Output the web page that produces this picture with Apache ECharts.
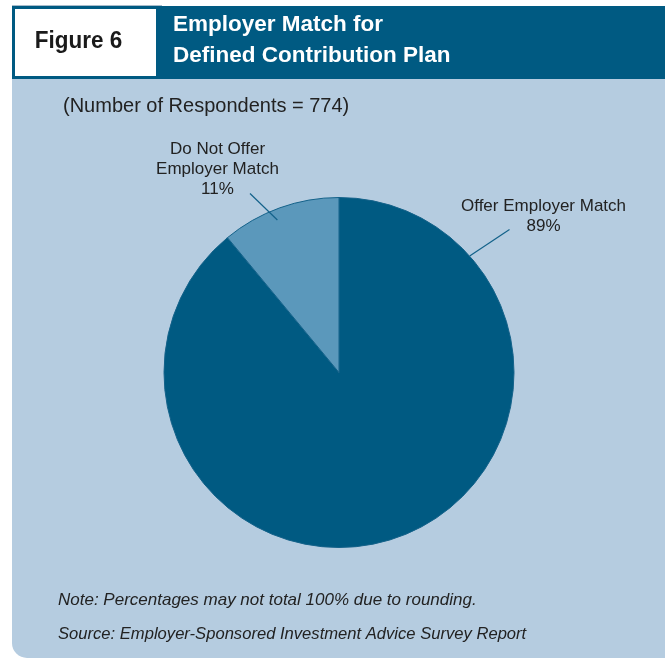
<!DOCTYPE html>
<html>
<head>
<meta charset="utf-8">
<script src="https://cdn.jsdelivr.net/npm/echarts@6/dist/echarts.min.js"></script>
<style>
  html, body { margin: 0; padding: 0; background: #ffffff; }
  #chart { width: 665px; height: 659px; }
</style>
</head>
<body>
<div id="chart"></div>
<script>
// Survey results: employer match for defined contribution plans
const categories = ['Offer Employer Match', 'Do Not Offer\nEmployer Match'];
const percentValues = [89, 11];
const sliceColors = ['#005a82', '#5b98bb'];
const figureLabel = 'Figure 6';
const titleLines = ['Employer Match for', 'Defined Contribution Plan'];
const subtitleText = '(Number of Respondents = 774)';
const noteText = 'Note: Percentages may not total 100% due to rounding.';
const sourceText = 'Source: Employer-Sponsored Investment Advice Survey Report';

const FONT = "'Liberation Sans', Arial, sans-serif";
const DARK = '#005a82';
const PANEL = '#b5cce0';
const LEADER = '#14628a';

// Pie geometry
const cx = 339, cy = 372.5, R = 175;
const toXY = (deg, r) => {
  // deg measured clockwise from 12 o'clock
  const a = deg * Math.PI / 180;
  return [cx + r * Math.sin(a), cy - r * Math.cos(a)];
};
// label placement: label centre, leader anchor on the slice, leader end
const labelPlacement = [
  { pos: [543.5, 216], anchor: toXY(48.3, R), end: [509.5, 229.5] },
  { pos: [217.5, 169.5], anchor: toXY(-22, R - 10.5), end: [250, 193.5] }
];

const pieData = categories.map((name, i) => ({
  name: name,
  value: percentValues[i],
  itemStyle: { color: sliceColors[i] }
}));

const chart = echarts.init(document.getElementById('chart'), null, { renderer: 'canvas' });

chart.setOption({
  animation: false,
  backgroundColor: '#ffffff',
  graphic: [
    { type: 'line', silent: true, shape: { x1: 12, y1: 5.5, x2: 162, y2: 5.5 }, style: { stroke: '#a9bccb', lineWidth: 1 } },
    { type: 'rect', silent: true, shape: { x: 12, y: 6, width: 653, height: 73 }, style: { fill: DARK } },
    { type: 'rect', silent: true, shape: { x: 12, y: 79, width: 653, height: 579, r: [0, 0, 0, 15] }, style: { fill: PANEL } },
    { type: 'rect', silent: true, shape: { x: 15, y: 9, width: 141, height: 67 }, style: { fill: '#ffffff' } },
    { type: 'text', silent: true, x: 78.5, y: 41, scaleY: 1.1, style: { text: figureLabel, font: 'bold 22.5px ' + FONT, fill: '#1a1a1a', textAlign: 'center', textVerticalAlign: 'middle' } },
    { type: 'text', silent: true, x: 173, y: 25, style: { text: titleLines[0], font: 'bold 22.5px ' + FONT, fill: '#ffffff', textAlign: 'left', textVerticalAlign: 'middle' } },
    { type: 'text', silent: true, x: 173, y: 56, style: { text: titleLines[1], font: 'bold 22.5px ' + FONT, fill: '#ffffff', textAlign: 'left', textVerticalAlign: 'middle' } },
    { type: 'text', silent: true, x: 63, y: 106, style: { text: subtitleText, font: '20px ' + FONT, fill: '#222222', textAlign: 'left', textVerticalAlign: 'middle' } },
    { type: 'text', silent: true, x: 58, y: 600.5, style: { text: noteText, font: 'italic 17px ' + FONT, fill: '#222222', textAlign: 'left', textVerticalAlign: 'middle' } },
    { type: 'text', silent: true, x: 58, y: 634.5, style: { text: sourceText, font: 'italic 16.6px ' + FONT, fill: '#222222', textAlign: 'left', textVerticalAlign: 'middle' } }
  ],
  series: [
    {
      // filled slices
      type: 'pie',
      silent: true,
      z: 2,
      center: [cx, cy],
      radius: R,
      startAngle: 90,
      clockwise: true,
      itemStyle: { borderColor: LEADER, borderWidth: 1 },
      label: { show: false },
      labelLine: { show: false },
      data: pieData
    },
    {
      // same slices, transparent, carrying the labels and leader lines on top
      type: 'pie',
      silent: true,
      z: 3,
      center: [cx, cy],
      radius: R,
      startAngle: 90,
      clockwise: true,
      itemStyle: { color: 'rgba(0,0,0,0)', borderWidth: 0 },
      label: {
        show: true,
        position: 'outside',
        formatter: p => p.name + '\n' + p.value + '%',
        fontFamily: FONT,
        fontSize: 17,
        lineHeight: 20,
        color: '#222222',
        align: 'center'
      },
      labelLine: { show: true, length: 20, length2: 10, lineStyle: { color: LEADER, width: 1.2 } },
      labelLayout: params => {
        const lp = labelPlacement[params.dataIndex];
        return {
          x: lp.pos[0],
          y: lp.pos[1],
          align: 'center',
          verticalAlign: 'middle',
          labelLinePoints: [lp.anchor, lp.end, lp.end]
        };
      },
      data: pieData.map(d => ({ name: d.name, value: d.value }))
    }
  ]
});
</script>
</body>
</html>
